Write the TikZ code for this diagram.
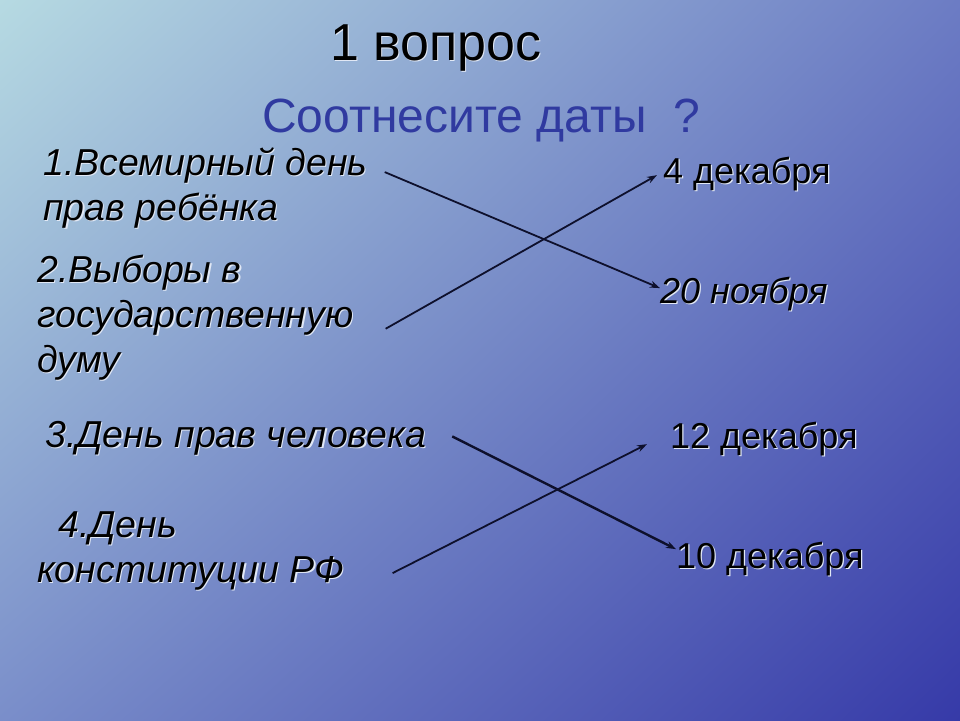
\documentclass[tikz,border=0pt]{standalone}
\usepackage{fontspec}
\setmainfont{Liberation Sans}
\usetikzlibrary{arrows.meta,positioning,shadings}
\definecolor{bgtl}{RGB}{182,218,226}
\definecolor{bgtr}{RGB}{108,124,196}
\definecolor{bgbl}{RGB}{122,142,202}
\definecolor{bgbr}{RGB}{54,58,168}
\definecolor{subblue}{RGB}{48,58,160}
\definecolor{linecol}{RGB}{14,16,44}
\definecolor{shadowcol}{RGB}{225,232,245}
% text with a light drop shadow
\newcommand\shd[1]{\leavevmode\rlap{\kern1.2pt\raisebox{-1.2pt}{\color{shadowcol}#1}}#1}
\begin{document}
\begin{tikzpicture}[x=1pt,y=-1pt]
	\tikzset{item/.style={anchor=base west,inner sep=0pt,align=left,
			font=\fontsize{37.5pt}{45pt}\selectfont\itshape},
		date/.style={anchor=base west,inner sep=0pt,
			font=\fontsize{36pt}{43pt}\selectfont},
		match/.style={draw=linecol,line width=1.8pt,-{Stealth[length=10pt,width=7pt]}}}
	\useasboundingbox (0,0) rectangle (960,720);
	\shade[upper left=bgtl,upper right=bgtr,lower left=bgbl,lower right=bgbr] (0,0) rectangle (960,720);
	% titles
	\node[anchor=base west,inner sep=0pt,font=\fontsize{52pt}{60pt}\selectfont] (title) at (330,60) {\shd{1 вопрос}};
	\node[anchor=base west,inner sep=0pt,text=subblue,font=\fontsize{48pt}{56pt}\selectfont] (sub) at (262,132) {Соотнесите даты \ ?};
	% left column (base = last line)
	\node[item] (q1) at (43,220) {\shd{1.Всемирный день}\\\shd{прав ребёнка}};
	\node[item] (q2) at (37,372) {\shd{2.Выборы в}\\\shd{государственную}\\\shd{думу}};
	\node[item] (q3) at (45,447) {\shd{3.День прав человека}};
	\node[item] (q4) at (37,582) {\hspace*{21pt}\shd{4.День}\\\shd{конституции РФ}};
	% right column
	\node[date] (d4) at (663,183) {\shd{4 декабря}};
	\node[date,font=\fontsize{36pt}{43pt}\selectfont\itshape] (d20) at (660,303) {\shd{20 ноября}};
	\node[date] (d12) at (670,448) {\shd{12 декабря}};
	\node[date] (d10) at (676,568) {\shd{10 декабря}};
	% matching arrows
	\draw[match] ([shift={(17,25)}]q1.north east) -- ([shift={(0,-6)}]d20.west);
	\draw[match] ([shift={(32,11)}]q2.east) -- ([shift={(-6,1)}]d4.west);
	\draw[match,line width=2.4pt] ([shift={(26,-2)}]q3.east) -- ([shift={(0,-10)}]d10.west);
	\draw[match] ([shift={(48,22)}]q4.east) -- ([shift={(-23,5)}]d12.west);
\end{tikzpicture}
\end{document}
